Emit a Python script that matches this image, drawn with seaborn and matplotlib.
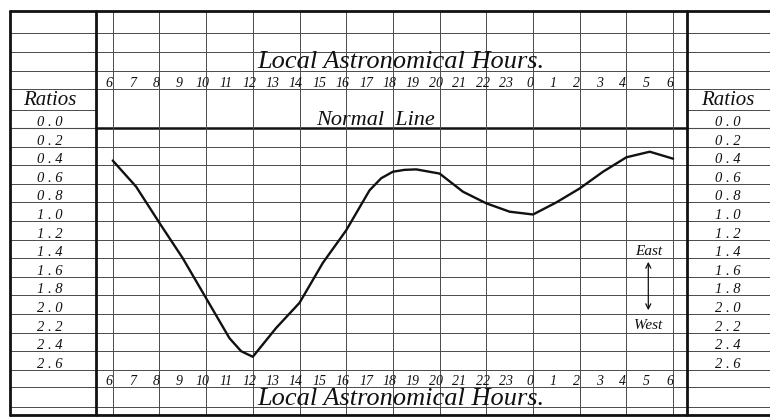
import matplotlib
matplotlib.use("Agg")
import matplotlib.pyplot as plt
import seaborn as sns
import pandas as pd

# ---- data ----
# hours elapsed since 6 o'clock (local astronomical time)
elapsed = [0, 1, 2, 3, 4, 5, 5.5, 6, 7, 8, 9, 10, 11, 11.5, 12, 12.5, 13,
           14, 15, 16, 17, 18, 19, 20, 21, 22, 23, 24]
ratios = [0.35, 0.63, 1.02, 1.40, 1.83, 2.26, 2.40, 2.46, 2.15, 1.88, 1.45,
          1.10, 0.67, 0.54, 0.47, 0.45, 0.445, 0.49, 0.685, 0.81, 0.90,
          0.93, 0.80, 0.65, 0.47, 0.315, 0.255, 0.33]
hour_labels = ["6", "7", "8", "9", "10", "11", "12", "13", "14", "15", "16",
               "17", "18", "19", "20", "21", "22", "23", "0", "1", "2", "3",
               "4", "5", "6"]
ratio_labels = ["0 . 0", "0 . 2", "0 . 4", "0 . 6", "0 . 8", "1 . 0",
                "1 . 2", "1 . 4", "1 . 6", "1 . 8", "2 . 0", "2 . 2",
                "2 . 4", "2 . 6"]
ratio_levels = [0.0, 0.2, 0.4, 0.6, 0.8, 1.0, 1.2, 1.4, 1.6, 1.8, 2.0,
                2.2, 2.4, 2.6]

df = pd.DataFrame({"elapsed": elapsed, "ratio": ratios})

# ---- layout: pixel positions of the ruled sheet ----
X0, XS = 112.7, 23.35   # px of hour 6, px per hour
Y0, YS = 128.0, 93.0    # px of ratio 0, px per unit ratio


def hx(px):
    return (px - X0) / XS


def ry(py):
    return (py - Y0) / YS


sns.set_theme(style="white")
plt.rcParams["font.family"] = ["Liberation Serif", "DejaVu Serif"]
plt.rcParams["font.style"] = "italic"

fig = plt.figure(figsize=(7.7, 4.19), dpi=100)
ax = fig.add_axes([0, 0, 1, 1])

ink = "#111111"
rule = "#4a4a4a"
left, right = hx(10), hx(770)
col_l, col_r = hx(96), hx(687)
top, bottom = ry(11), ry(415)

# horizontal rulings across the whole sheet
for py in [33, 52, 71, 89, 387, 407]:
    ax.plot([left, right], [ry(py)] * 2, color=rule, lw=0.7)
for lvl in ratio_levels[1:]:
    ax.plot([left, right], [lvl] * 2, color=rule, lw=0.7)
# row under "Ratios" only in the side columns
ax.plot([left, col_l], [ry(110)] * 2, color=rule, lw=0.7)
ax.plot([col_r, right], [ry(110)] * 2, color=rule, lw=0.7)
ax.plot([left, col_l], [0, 0], color=rule, lw=0.8)
ax.plot([col_r, right], [0, 0], color=rule, lw=0.8)
# normal line
ax.plot([col_l, col_r], [0, 0], color=ink, lw=1.8)

# vertical hour rulings every two hours
for h in range(0, 25, 2):
    ax.plot([h, h], [top, bottom], color=rule, lw=0.7)

# frame
ax.plot([left, right], [top, top], color=ink, lw=2.0)
ax.plot([left, right], [bottom, bottom], color=ink, lw=2.0)
ax.plot([left, left], [top, bottom], color=ink, lw=2.0)
ax.plot([col_l, col_l], [top, bottom], color=ink, lw=2.0)
ax.plot([col_r, col_r], [top, bottom], color=ink, lw=2.0)

# the curve
sns.lineplot(data=df, x="elapsed", y="ratio", ax=ax, color=ink, lw=1.7,
             sort=False, legend=False)
ax.set_xlim(hx(0), hx(770))
ax.set_ylim(ry(419), ry(0))
ax.axis("off")

# hour numbers, top and bottom
for i, lab in enumerate(hour_labels):
    ax.text(i - 0.15, ry(87), lab, ha="center", va="baseline", fontsize=10,
            color=ink)
    ax.text(i - 0.15, ry(385), lab, ha="center", va="baseline", fontsize=10,
            color=ink)

# titles
ax.text(hx(401), ry(68), "Local Astronomical Hours.", ha="center",
        va="baseline", fontsize=19, color=ink)
ax.text(hx(401), ry(405), "Local Astronomical Hours.", ha="center",
        va="baseline", fontsize=19, color=ink)
ax.text(hx(376), ry(125), "Normal  Line", ha="center", va="baseline",
        fontsize=16, color=ink)

# ratio columns
for side_x in [hx(50), hx(728)]:
    ax.text(side_x, ry(105), "Ratios", ha="center", va="baseline",
            fontsize=15, color=ink)
    for lvl, lab in zip(ratio_levels, ratio_labels):
        ax.text(side_x, lvl - ry(Y0 + 2), lab, ha="center", va="baseline",
                fontsize=10.5, color=ink)

# East / West arrow
ax.text(hx(649), ry(255), "East", ha="center", va="baseline", fontsize=11,
        color=ink)
ax.text(hx(648), ry(329), "West", ha="center", va="baseline", fontsize=11,
        color=ink)
ax.annotate("", xy=(hx(648.3), ry(259)), xytext=(hx(648.3), ry(313)),
            arrowprops=dict(arrowstyle="<->", lw=0.9, color=ink,
                            mutation_scale=9))

fig.savefig("out.png", dpi=100)
